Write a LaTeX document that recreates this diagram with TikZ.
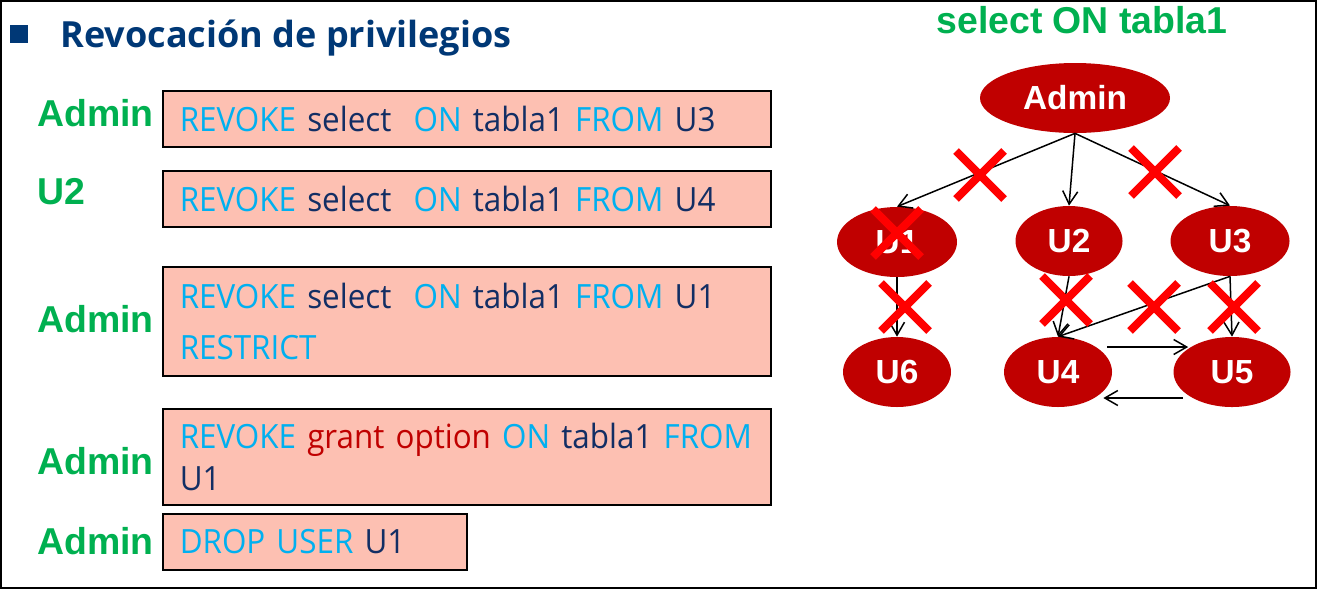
\documentclass[tikz,border=0pt]{standalone}
\usepackage{fontspec}
\setmainfont{Open Sans}
\newfontfamily\sqlfont{Open Sans}[FakeStretch=0.94]
\newfontfamily\arialfont{Liberation Sans}
\usetikzlibrary{arrows.meta,shapes.geometric,shapes.misc}

\definecolor{titleblue}{RGB}{0,56,118}
\definecolor{sqldark}{RGB}{18,46,100}
\definecolor{kwcyan}{RGB}{0,176,240}
\definecolor{grantred}{RGB}{192,0,0}
\definecolor{labgreen}{RGB}{0,176,80}
\definecolor{boxfill}{RGB}{253,192,178}
\definecolor{nodered}{RGB}{192,0,0}
\definecolor{xred}{RGB}{255,0,0}

\newcommand{\kw}[1]{\textcolor{kwcyan}{#1}}

\tikzset{
    user/.style={ellipse, fill=nodered, text=white, minimum height=14mm, inner sep=0pt,
        font=\arialfont\bfseries\fontsize{19}{21}\selectfont},
    who/.style={anchor=west, inner sep=0pt, text=labgreen,
        font=\arialfont\bfseries\fontsize{21.3}{24}\selectfont},
    sqlbox/.style={draw=black, line width=0.3mm, fill=boxfill, anchor=north west,
        inner xsep=3.4mm, inner ysep=0pt, text width=114.8mm, minimum height=11.2mm,
        align=left, text=sqldark, font=\sqlfont\fontsize{19}{24}\selectfont},
    arr/.style={-{Straight Barb[length=2.6mm,width=3mm]}, line width=0.3mm},
    xmark/.style={cross out, draw=xred, line width=1.6mm, minimum size=8mm, inner sep=0pt}
}

\begin{document}
\begin{tikzpicture}[x=0.2mm,y=-0.2mm]
    \useasboundingbox (0,0) rectangle (1317,589);
    \draw[line width=0.4mm] (1,1) rectangle (1316,588);
    %title
    \node[fill=titleblue, minimum size=3.6mm, inner sep=0pt] (bullet) at (19,34) {};
    \node[anchor=base west, inner sep=0pt, text=titleblue,
        font=\bfseries\fontsize{20.5}{24}\selectfont] (title) at (60,47) {Revocación de privilegios};
    \node[anchor=base, inner sep=0pt, text=labgreen,
        font=\arialfont\bfseries\fontsize{21.3}{24}\selectfont] (hdr) at (1082,33) {select ON tabla1};
    %who runs each statement
    \node[who] (who1) at (37,113) {Admin};
    \node[who] (who2) at (37,192) {U2};
    \node[who] (who3) at (37,319) {Admin};
    \node[who] (who4) at (37,461) {Admin};
    \node[who] (who5) at (37,541) {Admin};
    %statements
    \node[sqlbox] (sql1) at (162,90) {\kw{REVOKE} select \ \kw{ON} tabla1 \kw{FROM} U3};
    \node[sqlbox] (sql2) at (162,170) {\kw{REVOKE} select \ \kw{ON} tabla1 \kw{FROM} U4};
    \node[sqlbox, minimum height=21.8mm] (sql3) at (162,266)
        {\kw{REVOKE} select \ \kw{ON} tabla1 \kw{FROM} U1\\[5pt] \kw{RESTRICT}};
    \node[sqlbox, minimum height=19.2mm] (sql4) at (162,408)
        {\mbox{\kw{REVOKE} \textcolor{grantred}{grant option} \kw{ON} tabla1 \kw{FROM}}\\ U1};
    \node[sqlbox, text width=54mm] (sql5) at (162,513) {\kw{DROP USER} U1};
    %users graph
    \node[user, minimum width=38mm] (admin) at (1075,98) {Admin};
    \node[user, minimum width=24mm] (u1) at (897,242) {U1};
    \node[user, minimum width=21.4mm] (u2) at (1069,241) {U2};
    \node[user, minimum width=23.8mm] (u3) at (1230,241) {U3};
    \node[user, minimum width=21.6mm] (u6) at (897,372) {U6};
    \node[user, minimum width=21.6mm] (u4) at (1058,372) {U4};
    \node[user, minimum width=23.4mm] (u5) at (1232,372) {U5};
    %grants
    \draw[arr] (admin.south) -- (u1.north);
    \draw[arr] (admin.south) -- (u2.north);
    \draw[arr] (admin.south) -- (u3.north);
    \draw[arr] (u1.south) -- (u6.north);
    \draw[arr] (u2.south) -- (u4.north);
    \draw[arr] (u3.south) -- (u4.north);
    \draw[arr] (u3.south) -- (u5.north);
    \draw[arr] ([shift={(-5,-25)}]u4.east) -- ([shift={(15,-25)}]u5.west);
    \draw[arr] ([shift={(10,26)}]u5.west) -- ([shift={(-9,26)}]u4.east);
    %revoked
    \foreach \p [count=\i] in {(980,175),(1155,172),(897,233),(905,307),(1066,300),(1154,307),(1234,307)}
        {%
            \node[xmark] (x\i) at \p {};
        }
\end{tikzpicture}
\end{document}
